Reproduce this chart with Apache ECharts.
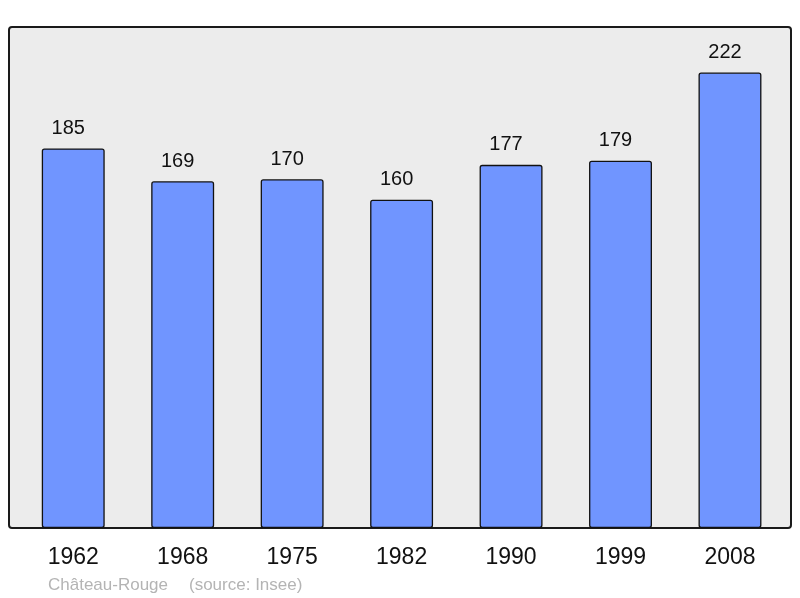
<!DOCTYPE html>
<html>
<head>
<meta charset="utf-8">
<script src="https://cdn.jsdelivr.net/npm/echarts@6/dist/echarts.min.js"></script>
<style>
html,body{margin:0;padding:0;background:#fff;}
#c{width:800px;height:598px;}
</style>
</head>
<body>
<div id="c"></div>
<script>
var years = ['1962','1968','1975','1982','1990','1999','2008'];
var population = [185,169,170,160,177,179,222];
var footerPlace = 'Château-Rouge';
var footerSource = '(source: Insee)';

var chart = echarts.init(document.getElementById('c'), null, {renderer:'canvas'});
chart.setOption({
  animation:false,
  backgroundColor:'#ffffff',
  textStyle:{fontFamily:'Liberation Sans, Arial, sans-serif'},
  graphic:[
    {type:'rect', z:-10, shape:{x:9, y:27, width:782, height:501, r:3},
     style:{fill:'#ececec', stroke:'#1a1a1a', lineWidth:2}},
    {type:'text', left:48, top:576.5,
     style:{text:footerPlace, fill:'#b4b4b4', font:'17px "Liberation Sans", Arial, sans-serif'}},
    {type:'text', left:189, top:576.5,
     style:{text:footerSource, fill:'#b4b4b4', font:'17px "Liberation Sans", Arial, sans-serif'}}
  ],
  grid:{left:18.5, right:15.3, top:27, bottom:70},
  xAxis:{type:'category', data:years,
    axisLine:{show:false}, axisTick:{show:false},
    axisLabel:{color:'#111', fontSize:23, margin:18, fontFamily:'Liberation Sans, Arial, sans-serif'}},
  yAxis:{type:'value', min:0, max:244.2, show:false, splitLine:{show:false}},
  series:[{
    type:'bar', data:population, barWidth:'57.5%',
    itemStyle:{color:'#7095ff', borderColor:'#111', borderWidth:1.3, borderRadius:2},
    label:{show:true, position:'top', distance:10, offset:[-5,0], color:'#111', fontSize:20,
      fontFamily:'Liberation Sans, Arial, sans-serif'}
  }]
});
</script>
</body>
</html>
